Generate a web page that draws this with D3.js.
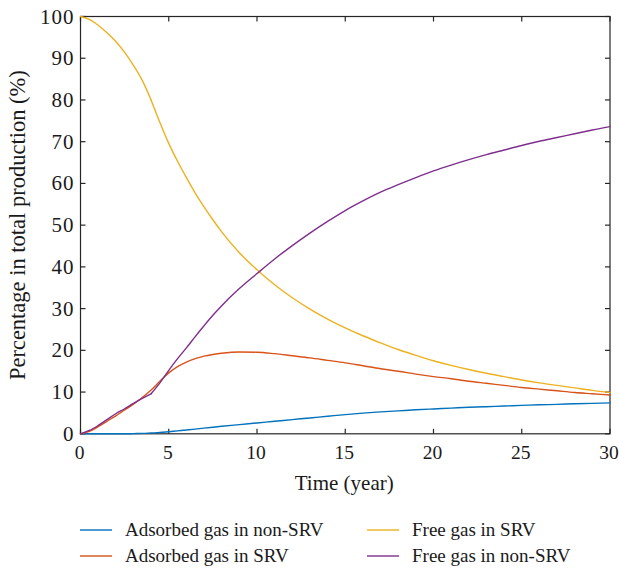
<!DOCTYPE html>
<html>
<head>
<meta charset="utf-8">
<script src="https://cdn.jsdelivr.net/npm/d3@7"></script>
<style>
  html, body { margin: 0; padding: 0; background: #fff; }
  svg { display: block; }
  text { font-family: "Liberation Serif", "DejaVu Serif", serif; fill: #1a1a1a; }
</style>
</head>
<body>
<svg id="chart" width="619" height="571"></svg>
<script>
// Time axis (years)
const years = [0, 0.5, 1, 1.5, 2, 2.5, 3, 3.5, 4, 4.5, 5, 5.5, 6, 6.5, 7, 7.5, 8, 9, 10,
  11, 12, 13, 14, 15, 16, 17, 18, 19, 20, 21, 22, 23, 24, 25, 26, 27, 28, 29, 30];
// Regime change at year 4: free-gas curves are smoothed separately on each side
const breakYear = 4;

// Share of total production (%) per gas source
const adsorbedNonSRV = [0, 0, 0, 0, 0, 0, 0.05, 0.1, 0.2, 0.3, 0.5, 0.7, 0.9, 1.12, 1.35, 1.58, 1.8, 2.2, 2.6,
  3.0, 3.4, 3.8, 4.2, 4.6, 4.95, 5.25, 5.5, 5.75, 5.95, 6.15, 6.35, 6.5, 6.65, 6.8, 6.95, 7.05, 7.2, 7.3, 7.4];
const adsorbedSRV = [0, 0.6, 1.7, 3.0, 4.3, 5.7, 7.1, 8.7, 10.5, 12.6, 14.6, 16.1, 17.2, 18.0, 18.6, 19.0, 19.3, 19.6, 19.55,
  19.2, 18.7, 18.2, 17.6, 17.0, 16.3, 15.6, 15.0, 14.3, 13.7, 13.2, 12.6, 12.1, 11.6, 11.1, 10.7, 10.3, 9.9, 9.6, 9.3];
const freeSRV = [100, 99.3, 97.9, 96.1, 94.0, 91.4, 88.3, 84.7, 80.0, 74.6, 69.6, 65.3, 61.4, 57.7, 54.4, 51.3, 48.4, 43.4, 39.3,
  35.7, 32.6, 29.9, 27.5, 25.4, 23.5, 21.8, 20.2, 18.8, 17.5, 16.4, 15.4, 14.5, 13.7, 12.9, 12.2, 11.6, 11.0, 10.4, 9.9];
const freeNonSRV = [0, 0.8, 2.0, 3.4, 4.8, 6.0, 7.3, 8.5, 9.6, 12.2, 15.2, 18.0, 20.6, 23.3, 25.9, 28.4, 30.7, 34.8, 38.4,
  41.9, 45.1, 48.1, 50.9, 53.5, 55.8, 57.9, 59.7, 61.4, 63.0, 64.4, 65.7, 66.9, 68.0, 69.1, 70.1, 71.0, 71.9, 72.8, 73.6];

const xTicks = [0, 5, 10, 15, 20, 25, 30];
const yTicks = [0, 10, 20, 30, 40, 50, 60, 70, 80, 90, 100];

const seriesNames = ["Adsorbed gas in non-SRV", "Adsorbed gas in SRV", "Free gas in SRV", "Free gas in non-SRV"];
const seriesColors = ["#0072BD", "#D95319", "#EDB120", "#7E2F8E"];
const seriesValues = [adsorbedNonSRV, adsorbedSRV, freeSRV, freeNonSRV];
const seriesHasBreak = [false, false, true, true];

const svg = d3.select("#chart");
const plotL = 80.5, plotR = 610, plotT = 16.5, plotB = 433.8;

const x = d3.scaleLinear().domain([0, 30]).range([plotL, plotR]);
const y = d3.scaleLinear().domain([0, 100]).range([plotB, plotT]);

// Plot frame
svg.append("rect")
  .attr("x", plotL).attr("y", plotT)
  .attr("width", plotR - plotL).attr("height", plotB - plotT)
  .attr("fill", "none").attr("stroke", "#262626").attr("stroke-width", 1.2);

// Inward ticks on all four sides
const tickLen = 5;
const g = svg.append("g").attr("stroke", "#262626").attr("stroke-width", 1.2);
xTicks.forEach(t => {
  g.append("line").attr("x1", x(t)).attr("x2", x(t)).attr("y1", plotB).attr("y2", plotB - tickLen);
  g.append("line").attr("x1", x(t)).attr("x2", x(t)).attr("y1", plotT).attr("y2", plotT + tickLen);
});
yTicks.forEach(t => {
  g.append("line").attr("x1", plotL).attr("x2", plotL + tickLen).attr("y1", y(t)).attr("y2", y(t));
  g.append("line").attr("x1", plotR).attr("x2", plotR - tickLen).attr("y1", y(t)).attr("y2", y(t));
});

// Tick labels
svg.append("g").selectAll("text").data(xTicks).join("text")
  .attr("x", d => x(d) - 1).attr("y", plotB + 25)
  .attr("text-anchor", "middle").attr("font-size", 19.5)
  .text(d => d);
svg.append("g").selectAll("text").data(yTicks).join("text")
  .attr("x", plotL - 6).attr("y", d => y(d) + 7)
  .attr("text-anchor", "end").attr("font-size", 21)
  .attr("letter-spacing", 1)
  .text(d => d);

// Axis titles
svg.append("text")
  .attr("x", (plotL + plotR) / 2 - 1).attr("y", plotB + 56)
  .attr("text-anchor", "middle").attr("font-size", 21)
  .text("Time (year)");
svg.append("text")
  .attr("transform", `translate(25, ${(plotT + plotB) / 2}) rotate(-90)`)
  .attr("text-anchor", "middle").attr("font-size", 22.5)
  .text("Percentage in total production (%)");

// Series lines
const line = d3.line()
  .x(d => x(d[0]))
  .y(d => y(d[1]))
  .curve(d3.curveMonotoneX);

const lines = svg.append("g");
seriesValues.forEach((vals, i) => {
  const pts = years.map((t, j) => [t, vals[j]]);
  const segments = seriesHasBreak[i]
    ? [pts.filter(p => p[0] <= breakYear), pts.filter(p => p[0] >= breakYear)]
    : [pts];
  segments.forEach(seg => {
    lines.append("path")
      .attr("d", line(seg))
      .attr("fill", "none")
      .attr("stroke", seriesColors[i])
      .attr("stroke-width", 1.4)
      .attr("stroke-linejoin", "round")
      .attr("stroke-linecap", "round");
  });
});

// Legend: two columns, two rows
const legendPos = [
  { lx: 80, ly: 530 }, { lx: 80, ly: 556 },
  { lx: 367, ly: 530 }, { lx: 367, ly: 556 }
];
const legend = svg.append("g").selectAll("g").data(seriesNames).join("g")
  .attr("transform", (d, i) => `translate(${legendPos[i].lx}, ${legendPos[i].ly})`);
legend.append("line")
  .attr("x1", 0).attr("x2", 32).attr("y1", 0).attr("y2", 0)
  .attr("stroke", (d, i) => seriesColors[i]).attr("stroke-width", 1.4);
legend.append("text")
  .attr("x", 45).attr("y", 6)
  .attr("font-size", 19)
  .text(d => d);
</script>
</body>
</html>
